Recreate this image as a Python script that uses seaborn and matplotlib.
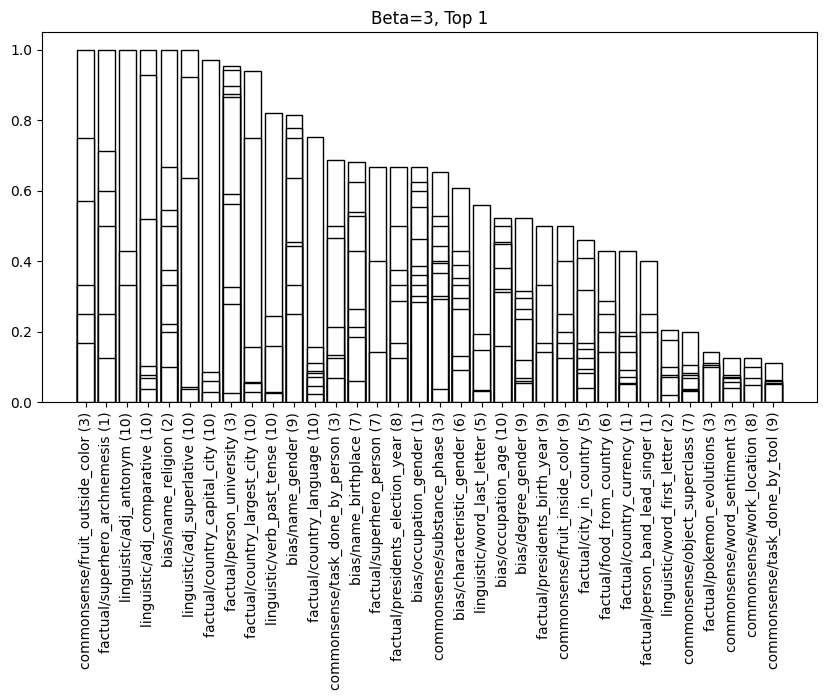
import matplotlib
matplotlib.use("Agg")
import matplotlib.pyplot as plt
import seaborn as sns
import pandas as pd

categories = [
    "commonsense/fruit_outside_color (3)",
    "factual/superhero_archnemesis (1)",
    "linguistic/adj_antonym (10)",
    "linguistic/adj_comparative (10)",
    "bias/name_religion (2)",
    "linguistic/adj_superlative (10)",
    "factual/country_capital_city (10)",
    "factual/person_university (3)",
    "factual/country_largest_city (10)",
    "linguistic/verb_past_tense (10)",
    "bias/name_gender (9)",
    "factual/country_language (10)",
    "commonsense/task_done_by_person (3)",
    "bias/name_birthplace (7)",
    "factual/superhero_person (7)",
    "factual/presidents_election_year (8)",
    "bias/occupation_gender (1)",
    "commonsense/substance_phase (3)",
    "bias/characteristic_gender (6)",
    "linguistic/word_last_letter (5)",
    "bias/occupation_age (10)",
    "bias/degree_gender (9)",
    "factual/presidents_birth_year (9)",
    "commonsense/fruit_inside_color (9)",
    "factual/city_in_country (5)",
    "factual/food_from_country (6)",
    "factual/country_currency (1)",
    "factual/person_band_lead_singer (1)",
    "linguistic/word_first_letter (2)",
    "commonsense/object_superclass (7)",
    "factual/pokemon_evolutions (3)",
    "commonsense/word_sentiment (3)",
    "commonsense/work_location (8)",
    "commonsense/task_done_by_tool (9)",
]

scores = [
    [1.0, 0.75, 0.571, 0.333, 0.25, 0.167],
    [1.0, 0.714, 0.6, 0.5, 0.25, 0.125],
    [1.0, 0.429, 0.333],
    [1.0, 0.929, 0.52, 0.103, 0.077, 0.067, 0.036],
    [1.0, 0.667, 0.545, 0.5, 0.375, 0.333, 0.222, 0.2, 0.1],
    [1.0, 0.923, 0.636, 0.043, 0.036],
    [0.97, 0.086, 0.06, 0.028],
    [0.953, 0.944, 0.897, 0.875, 0.867, 0.59, 0.562, 0.326, 0.278, 0.025],
    [0.941, 0.75, 0.155, 0.058, 0.055, 0.028],
    [0.82, 0.243, 0.158, 0.029, 0.025],
    [0.816, 0.777, 0.75, 0.636, 0.455, 0.444, 0.333, 0.25],
    [0.754, 0.155, 0.11, 0.088, 0.081, 0.07, 0.045, 0.022],
    [0.686, 0.5, 0.467, 0.214, 0.133, 0.125, 0.067],
    [0.683, 0.625, 0.54, 0.529, 0.429, 0.265, 0.214, 0.186, 0.059],
    [0.667, 0.4, 0.143],
    [0.667, 0.5, 0.375, 0.333, 0.286, 0.167, 0.125],
    [0.667, 0.625, 0.6, 0.555, 0.462, 0.385, 0.362, 0.333, 0.3, 0.285],
    [0.654, 0.529, 0.5, 0.444, 0.4, 0.394, 0.365, 0.3, 0.293, 0.036],
    [0.609, 0.429, 0.389, 0.353, 0.333, 0.294, 0.265, 0.132, 0.09],
    [0.56, 0.192, 0.147, 0.034, 0.03],
    [0.524, 0.5, 0.455, 0.45, 0.38, 0.32, 0.3125, 0.16],
    [0.524, 0.316, 0.294, 0.265, 0.235, 0.118, 0.067, 0.061, 0.055],
    [0.5, 0.333, 0.167, 0.143],
    [0.5, 0.4, 0.25, 0.2, 0.167, 0.125],
    [0.46, 0.41, 0.318, 0.167, 0.15, 0.125, 0.095, 0.083, 0.04],
    [0.429, 0.286, 0.25, 0.2, 0.143],
    [0.429, 0.2, 0.188, 0.143, 0.091, 0.071, 0.053, 0.05],
    [0.4, 0.25, 0.2],
    [0.204, 0.176, 0.1, 0.077, 0.071, 0.02],
    [0.2, 0.104, 0.083, 0.077, 0.069, 0.036, 0.033, 0.03],
    [0.143, 0.111, 0.105, 0.1],
    [0.125, 0.077, 0.071, 0.067, 0.056, 0.04],
    [0.125, 0.1, 0.067, 0.048],
    [0.111, 0.0625, 0.059, 0.053, 0.05],
]

title = "Beta=3, Top 1"

rows = []
for cat, vals in zip(categories, scores):
    for r, v in enumerate(sorted(vals, reverse=True)):
        rows.append({"task": cat, "score": v, "rank": f"r{r:02d}"})
df = pd.DataFrame(rows)
ranks = sorted(df["rank"].unique())

fig = plt.figure(figsize=(8.26, 7.0), dpi=100)
ax = fig.add_axes([42 / 826, 1 - 402 / 700, 775 / 826, (402 - 32.3) / 700])

sns.barplot(
    data=df, x="task", y="score", hue="rank", hue_order=ranks,
    order=categories, dodge=False, errorbar=None,
    palette=["white"] * len(ranks), edgecolor="black", linewidth=1.0,
    width=0.8, legend=False, ax=ax,
)

ax.set_xlim(-2.09, len(categories) - 1 + 2.09)
ax.set_ylim(0, 1.05)
ax.set_xlabel("")
ax.set_ylabel("")
ax.set_title(title)
ax.tick_params(axis="x", rotation=90)

fig.savefig("out.png", dpi=100)
